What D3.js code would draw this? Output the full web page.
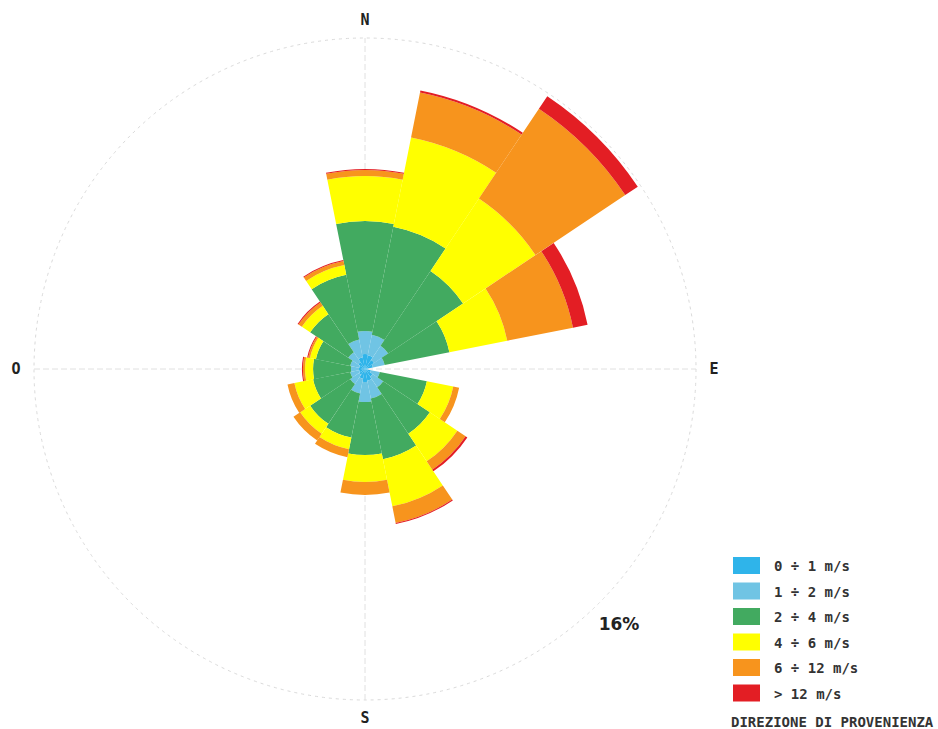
<!DOCTYPE html>
<html lang="it">
<head>
    <meta charset="UTF-8"/>
    <title>Rosa dei venti</title>
    <script src="https://d3js.org/d3.v7.min.js"></script>
    <style>
        body {
            margin: 0;
            background: white;
        }
    </style>
</head>
<body>
<div id="chart"></div>

<script>
    // sectors, clockwise from north
    const directions = ["N", "NNE", "NE", "ENE", "E", "ESE", "SE", "SSE",
        "S", "SSW", "SW", "WSW", "W", "WNW", "NW", "NNW"];

    const classes = ["0 ÷ 1 m/s", "1 ÷ 2 m/s", "2 ÷ 4 m/s", "4 ÷ 6 m/s", "6 ÷ 12 m/s", "> 12 m/s"];
    const classColors = ["#2fb4ea", "#70c4e4", "#42aa60", "#ffff00", "#f7941d", "#e31e24"];

    // frequency (%) of each speed class per sector
    const v0_1 = [0.73, 0.68, 0.53, 0.39, 0, 0.29, 0.44, 0.58, 0.63, 0.48, 0.34, 0.29, 0.29, 0.29, 0.39, 0.58];
    const v1_2 = [1.11, 1.01, 0.82, 0.58, 0, 0.44, 0.62, 0.87, 0.97, 0.73, 0.53, 0.44, 0.39, 0.44, 0.58, 0.87];
    const v2_4 = [5.31, 5.32, 4.35, 3.19, 0, 2.32, 2.71, 3.00, 2.56, 2.17, 2.32, 1.83, 1.83, 1.69, 2.22, 3.19];
    const v4_6 = [2.18, 4.40, 4.21, 2.85, 0, 1.30, 1.60, 2.32, 1.30, 0.58, 0.58, 0.92, 0.39, 0.29, 0.48, 0.48];
    const v6_12 = [0.29, 2.22, 5.22, 3.24, 0, 0.29, 0.48, 0.82, 0.63, 0.39, 0.39, 0.34, 0.10, 0.09, 0.20, 0.20];
    const v12 = [0.05, 0.10, 0.73, 0.72, 0, 0, 0.10, 0.05, 0, 0, 0, 0, 0.05, 0.05, 0.05, 0.05];

    const maxPct = 16;
    const cardinals = [{label: "N", angle: 0}, {label: "E", angle: 90}, {label: "S", angle: 180}, {label: "O", angle: 270}];

    const width = 938;
    const height = 729;
    const cx = 365, cy = 369;
    const R = 331;

    const svg = d3.select("#chart")
        .append("svg")
        .attr("width", width)
        .attr("height", height);

    const series = [v0_1, v1_2, v2_4, v4_6, v6_12, v12];
    const table = directions.map((d, i) => {
        const row = {dir: d};
        classes.forEach((c, k) => row[c] = series[k][i]);
        return row;
    });

    const rScale = d3.scaleLinear().domain([0, maxPct]).range([0, R]);
    const aScale = d3.scaleBand().domain(directions).range([-Math.PI / 16, 2 * Math.PI - Math.PI / 16]);

    const g = svg.append("g").attr("transform", `translate(${cx}, ${cy})`);

    // grid
    g.append("circle")
        .attr("r", rScale(maxPct))
        .attr("fill", "none")
        .attr("stroke", "#dadada")
        .attr("stroke-width", 1)
        .attr("stroke-dasharray", "3,4");

    g.selectAll(".axis-line")
        .data([0, 90])
        .join("line")
        .attr("class", "axis-line")
        .attr("x1", d => -R * Math.sin(d * Math.PI / 180))
        .attr("y1", d => R * Math.cos(d * Math.PI / 180))
        .attr("x2", d => R * Math.sin(d * Math.PI / 180))
        .attr("y2", d => -R * Math.cos(d * Math.PI / 180))
        .attr("stroke", "#e0e0e0")
        .attr("stroke-width", 1)
        .attr("stroke-dasharray", "6,3");

    // stacked sectors
    const stacked = d3.stack().keys(classes)(table);
    const arc = d3.arc()
        .innerRadius(d => rScale(d[0]))
        .outerRadius(d => rScale(d[1]))
        .startAngle(d => aScale(d.data.dir))
        .endAngle(d => aScale(d.data.dir) + aScale.bandwidth());

    g.selectAll(".layer")
        .data(stacked)
        .join("g")
        .attr("class", "layer")
        .attr("fill", (d, i) => classColors[i])
        .selectAll("path")
        .data(d => d.filter(p => p[1] - p[0] > 0))
        .join("path")
        .attr("d", arc);

    // cardinal labels
    g.selectAll(".card")
        .data(cardinals)
        .join("text")
        .attr("class", "card")
        .attr("x", d => (R + 18) * Math.sin(d.angle * Math.PI / 180))
        .attr("y", d => -(R + 18) * Math.cos(d.angle * Math.PI / 180) + 5)
        .attr("text-anchor", "middle")
        .style("font-family", "DejaVu Sans Mono, monospace")
        .style("font-size", "15px")
        .style("font-weight", "bold")
        .style("fill", "#222")
        .text(d => d.label);

    // scale label
    svg.append("text")
        .attr("x", 619)
        .attr("y", 630)
        .attr("text-anchor", "middle")
        .style("font-family", "DejaVu Sans, sans-serif")
        .style("font-size", "17px")
        .style("font-weight", "bold")
        .style("fill", "#222")
        .text(maxPct + "%");

    // legend
    const legend = svg.append("g").attr("transform", "translate(733, 557)");
    const items = legend.selectAll(".item")
        .data(classes)
        .join("g")
        .attr("class", "item")
        .attr("transform", (d, i) => `translate(0, ${i * 25.5})`);
    items.append("rect")
        .attr("width", 27)
        .attr("height", 17)
        .attr("fill", (d, i) => classColors[i]);
    items.append("text")
        .attr("x", 41)
        .attr("y", 14)
        .style("font-family", "DejaVu Sans Mono, monospace")
        .style("font-size", "14px")
        .style("font-weight", "bold")
        .style("fill", "#333")
        .text(d => d);

    svg.append("text")
        .attr("x", 731)
        .attr("y", 727)
        .style("font-family", "DejaVu Sans Mono, monospace")
        .style("font-size", "14px")
        .style("font-weight", "bold")
        .style("fill", "#333")
        .text("DIREZIONE DI PROVENIENZA");
</script>
</body>
</html>
